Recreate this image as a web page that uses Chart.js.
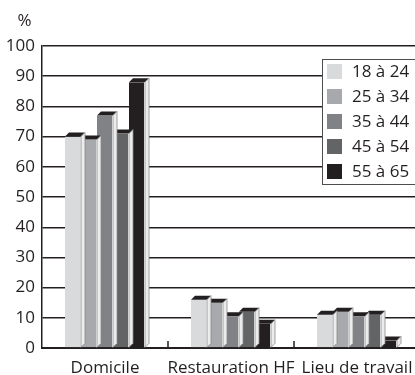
<!DOCTYPE html>
<html lang="fr">
<head>
<meta charset="utf-8">
<title>Lieux de consommation selon l'âge</title>
<script src="https://cdn.jsdelivr.net/npm/chart.js@4.4.0/dist/chart.umd.min.js"></script>
<style>
  html, body { margin: 0; padding: 0; background: #fff; overflow: hidden; }
  #wrap { width: 422px; height: 375px; }
</style>
</head>
<body>
<div id="wrap"><canvas id="lieuxChart"></canvas></div>
<script>
// données (%)
const categories = ['Domicile', 'Restauration HF', 'Lieu de travail'];
const ageGroups = ['18 à 24', '25 à 34', '35 à 44', '45 à 54', '55 à 65'];
const age18_24 = [70, 16, 11];
const age25_34 = [69, 15, 12];
const age35_44 = [77, 10.5, 10.5];
const age45_54 = [71, 12, 11];
const age55_65 = [88, 8, 2.5];
const yTicks = [0, 10, 20, 30, 40, 50, 60, 70, 80, 90, 100];

const greys = ['#d9dadc', '#a7a9ac', '#808285', '#636466', '#231f20'];
const ink = '#231f20';
const fontFamily = '"Open Sans", "Noto Sans", sans-serif';

const seriesValues = [age18_24, age25_34, age35_44, age45_54, age55_65];

// faces supérieure et latérale de chaque barre (effet relief)
const bar3d = {
    id: 'bar3d',
    afterDatasetDraw(chart, args) {
        const ctx = chart.ctx;
        const d = 4;
        ctx.save();
        args.meta.data.forEach(function(bar) {
            const p = bar.getProps(['x', 'y', 'base', 'width'], true);
            const l = p.x - p.width / 2, r = p.x + p.width / 2;
            // dessus
            ctx.beginPath();
            ctx.moveTo(l, p.y);
            ctx.lineTo(r, p.y);
            ctx.lineTo(r + d, p.y - d);
            ctx.lineTo(l + d, p.y - d);
            ctx.closePath();
            ctx.fillStyle = ink;
            ctx.fill();
            // côté
            ctx.beginPath();
            ctx.moveTo(r, p.y);
            ctx.lineTo(r + d, p.y - d);
            ctx.lineTo(r + d, p.base - d);
            ctx.lineTo(r, p.base);
            ctx.closePath();
            ctx.fillStyle = '#ececec';
            ctx.fill();
            ctx.strokeStyle = '#8a8a8c';
            ctx.lineWidth = 0.8;
            ctx.stroke();
        });
        ctx.restore();
    }
};

// petites graduations entre les groupes, tournées vers le haut
const groupTicks = {
    id: 'groupTicks',
    afterDatasetsDraw(chart) {
        const x = chart.scales.x, ctx = chart.ctx;
        const bottom = chart.chartArea.bottom;
        ctx.save();
        ctx.strokeStyle = ink;
        ctx.lineWidth = 1.5;
        for (let i = 1; i < categories.length; i++) {
            const px = Math.round((x.getPixelForValue(i - 1) + x.getPixelForValue(i)) / 2);
            ctx.beginPath();
            ctx.moveTo(px, bottom);
            ctx.lineTo(px, bottom - 7);
            ctx.stroke();
        }
        ctx.restore();
    }
};

// légende encadrée dans la zone du graphique + unité
const boxLegend = {
    id: 'boxLegend',
    afterDraw(chart) {
        const ctx = chart.ctx, area = chart.chartArea;
        const sets = chart.data.datasets;
        const left = area.right - 98, top = area.top + 13, rowH = 25;
        ctx.save();
        ctx.fillStyle = '#fff';
        ctx.fillRect(left, top, 130, sets.length * rowH);
        ctx.strokeStyle = '#4d4d4f';
        ctx.lineWidth = 1;
        ctx.strokeRect(left + 0.5, top + 0.5, 130, sets.length * rowH);
        ctx.font = '17px ' + fontFamily;
        ctx.textBaseline = 'middle';
        ctx.textAlign = 'left';
        sets.forEach(function(ds, i) {
            const cy = top + 12.5 + i * rowH;
            ctx.fillStyle = ds.backgroundColor;
            ctx.fillRect(left + 5, cy - 7.5, 15, 15);
            ctx.fillStyle = ink;
            ctx.fillText(ds.label, left + 30, cy + 1);
        });
        // unité de l'axe
        const y = chart.scales.y;
        ctx.textAlign = 'center';
        ctx.fillText('%', 24.5, 21);
        ctx.restore();
    }
};

new Chart(document.getElementById('lieuxChart'), {
    type: 'bar',
    data: {
        labels: categories,
        datasets: ageGroups.map(function(label, i) {
            return {
                label: label,
                data: seriesValues[i],
                backgroundColor: greys[i],
                borderColor: '#ffffff',
                borderWidth: { left: 0, top: 0, right: 1, bottom: 0 },
                borderSkipped: false,
                barPercentage: 1,
                categoryPercentage: 0.635
            };
        })
    },
    options: {
        responsive: true,
        maintainAspectRatio: false,
        animation: false,
        layout: { padding: { top: 46, right: 2, left: 0, bottom: 0 } },
        plugins: {
            legend: { display: false },
            tooltip: { enabled: false }
        },
        scales: {
            x: {
                grid: { display: false },
                border: { display: true, color: ink, width: 2 },
                ticks: {
                    color: ink,
                    padding: 2,
                    maxRotation: 0,
                    autoSkip: false,
                    font: { family: fontFamily, size: 17 }
                },
                afterFit(scale) { scale.height = 27; }
            },
            y: {
                min: 0,
                max: 100,
                afterBuildTicks(scale) { scale.ticks = yTicks.map(v => ({ value: v })); },
                grid: { color: ink, lineWidth: 1.4, drawTicks: false },
                border: { display: true, color: ink, width: 1.5 },
                ticks: {
                    color: ink,
                    padding: 7,
                    font: { family: fontFamily, size: 17 }
                },
                afterFit(scale) { scale.width = 42; }
            }
        }
    },
    plugins: [bar3d, groupTicks, boxLegend]
});
</script>
</body>
</html>
